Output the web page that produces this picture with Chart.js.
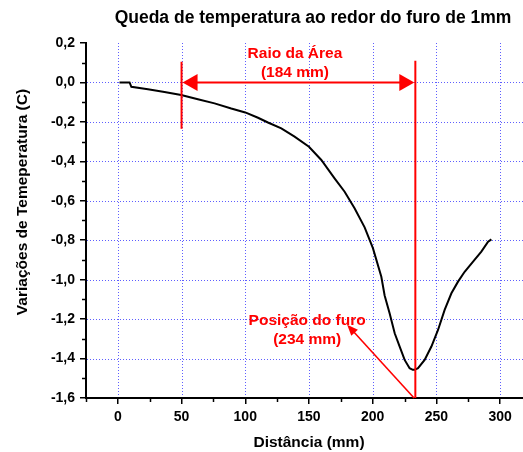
<!DOCTYPE html>
<html>
<head>
<meta charset="utf-8">
<script src="https://cdn.jsdelivr.net/npm/chart.js@4.4.1/dist/chart.umd.min.js"></script>
<style>
html,body{margin:0;padding:0;background:#fff;overflow:hidden}
#wrap{width:523px;height:452px;position:relative}
canvas{display:block}
</style>
</head>
<body>
<div id="wrap"><canvas id="c" width="523" height="452"></canvas></div>
<script>
// ---- data ----
const distanceMm = [1.3, 9.2, 10.6, 23.6, 36.6, 49.7, 62.8, 75.9, 89, 100, 110, 117.8, 128.3, 138.7, 150, 159.7, 170.1, 178, 185.8, 193.7, 200.2, 206.8, 209.4, 213.3, 217.3, 221.2, 225.1, 229.0, 231.5, 233.0, 235.6, 240.8, 246.1, 251.3, 256.5, 261.8, 267, 272.2, 278.8, 285.3, 290.6, 293.2];
const tempVariation = [0, 0, -0.022, -0.034, -0.048, -0.064, -0.085, -0.106, -0.132, -0.152, -0.179, -0.203, -0.233, -0.275, -0.326, -0.393, -0.486, -0.554, -0.638, -0.735, -0.84, -0.985, -1.08, -1.17, -1.272, -1.339, -1.407, -1.449, -1.457, -1.457, -1.449, -1.407, -1.339, -1.255, -1.153, -1.069, -1.01, -0.96, -0.909, -0.858, -0.808, -0.796];

const xMajorTicks = [0, 50, 100, 150, 200, 250, 300];
const xMinorTicks = [-25, 25, 75, 125, 175, 225, 275];
const yMajorTicks = [-1.6, -1.4, -1.2, -1.0, -0.8, -0.6, -0.4, -0.2, 0.0, 0.2];
const yMinorTicks = [-1.5, -1.3, -1.1, -0.9, -0.7, -0.5, -0.3, -0.1, 0.1];
const xGridValues = [0, 50, 100, 150, 200, 250, 300];
const yGridValues = [-1.4, -1.2, -1.0, -0.8, -0.6, -0.4, -0.2, 0.0];

const chartTitle = 'Queda de temperatura ao redor do furo de 1mm';
const xTitle = 'Distância (mm)';
const yTitle = 'Variações de Temeperatura (C)';
const radiusStart = 50;
const radiusEnd = 233.5;
const radiusLabel = ['Raio da Área', '(184 mm)'];
const holeLabel = ['Posição do furo', '(234 mm)'];

// ---- chart ----
const FONT = '"Liberation Sans", Arial, sans-serif';
const points = distanceMm.map((x, i) => ({x: x, y: tempVariation[i]}));
const allX = xMinorTicks.concat(xMajorTicks).sort((a, b) => a - b);
const allY = yMinorTicks.concat(yMajorTicks).sort((a, b) => a - b);
const isMajorY = v => yMajorTicks.some(m => Math.abs(m - v) < 1e-9);
const isMajorX = v => xMajorTicks.includes(v);

function arrowHead(ctx, tipX, tipY, fromX, fromY, len, half) {
  const ang = Math.atan2(tipY - fromY, tipX - fromX);
  ctx.save();
  ctx.translate(tipX, tipY);
  ctx.rotate(ang);
  ctx.beginPath();
  ctx.moveTo(0, 0);
  ctx.lineTo(-len, -half);
  ctx.lineTo(-len, half);
  ctx.closePath();
  ctx.fill();
  ctx.restore();
}

const decor = {
  id: 'decor',
  beforeDatasetsDraw(chart) {
    const {ctx, chartArea: a, scales: {x, y}} = chart;
    ctx.save();
    // dotted blue grid
    ctx.strokeStyle = 'rgba(40,40,255,0.75)';
    ctx.lineWidth = 1;
    ctx.setLineDash([1, 2]);
    xGridValues.forEach(v => {
      const px = Math.round(x.getPixelForValue(v)) + 0.5;
      ctx.beginPath(); ctx.moveTo(px, a.top); ctx.lineTo(px, a.bottom - 1); ctx.stroke();
    });
    yGridValues.forEach(v => {
      const py = Math.round(y.getPixelForValue(v)) + 0.5;
      ctx.beginPath(); ctx.moveTo(a.left + 1, py); ctx.lineTo(a.right, py); ctx.stroke();
    });
    ctx.setLineDash([]);
    // minor ticks
    ctx.strokeStyle = '#000';
    ctx.lineWidth = 1.5;
    xMinorTicks.forEach(v => {
      const px = Math.round(x.getPixelForValue(v)) + 0.5;
      ctx.beginPath(); ctx.moveTo(px, a.bottom); ctx.lineTo(px, a.bottom + 4); ctx.stroke();
    });
    yMinorTicks.forEach(v => {
      const py = Math.round(y.getPixelForValue(v)) + 0.5;
      ctx.beginPath(); ctx.moveTo(a.left, py); ctx.lineTo(a.left - 4, py); ctx.stroke();
    });
    ctx.restore();
  },
  afterDatasetsDraw(chart) {
    const {ctx, chartArea: a, scales: {x, y}} = chart;
    ctx.save();
    ctx.strokeStyle = '#ff0000';
    ctx.fillStyle = '#ff0000';
    ctx.lineWidth = 2;
    const xs = x.getPixelForValue(radiusStart);
    const xe = x.getPixelForValue(radiusEnd);
    const y0 = y.getPixelForValue(0);
    // vertical markers
    ctx.beginPath(); ctx.moveTo(xs, y.getPixelForValue(0.105)); ctx.lineTo(xs, y.getPixelForValue(-0.235)); ctx.stroke();
    ctx.beginPath(); ctx.moveTo(xe, y.getPixelForValue(0.11)); ctx.lineTo(xe, a.bottom); ctx.stroke();
    // double arrow
    ctx.beginPath(); ctx.moveTo(xs + 10, y0); ctx.lineTo(xe - 10, y0); ctx.stroke();
    arrowHead(ctx, xs + 1, y0, xe, y0, 15, 8.5);
    arrowHead(ctx, xe - 1, y0, xs, y0, 15, 8.5);
    // pointer arrow to hole label
    const tx = x.getPixelForValue(180), ty = y.getPixelForValue(-1.228);
    const sx = x.getPixelForValue(232.5), sy = a.bottom;
    ctx.lineWidth = 1.6;
    ctx.beginPath(); ctx.moveTo(sx, sy); ctx.lineTo(tx + (sx - tx) * 0.1, ty + (sy - ty) * 0.1); ctx.stroke();
    arrowHead(ctx, tx, ty, sx, sy, 11, 4.5);
    // red texts
    ctx.font = 'bold 15.5px ' + FONT;
    ctx.textAlign = 'center';
    ctx.textBaseline = 'alphabetic';
    const rx = x.getPixelForValue(139);
    ctx.fillText(radiusLabel[0], rx, y0 - 24.5);
    ctx.fillText(radiusLabel[1], rx, y0 - 5.5);
    const hx = x.getPixelForValue(148.6);
    ctx.fillText(holeLabel[0], hx, y.getPixelForValue(-1.2) + 5.5);
    ctx.fillText(holeLabel[1], hx, y.getPixelForValue(-1.2) + 24.5);
    // titles
    ctx.fillStyle = '#000';
    ctx.font = 'bold 17.5px ' + FONT;
    ctx.fillText(chartTitle, 313, 23);
    ctx.font = 'bold 15.5px ' + FONT;
    ctx.fillText(xTitle, 309, 446.5);
    ctx.save();
    ctx.translate(26.5, 202);
    ctx.rotate(-Math.PI / 2);
    ctx.fillText(yTitle, 0, 0);
    ctx.restore();
    ctx.restore();
  }
};

new Chart(document.getElementById('c'), {
  type: 'line',
  data: {
    datasets: [{
      data: points,
      borderColor: '#000',
      borderWidth: 2,
      pointRadius: 0,
      tension: 0,
      fill: false
    }]
  },
  options: {
    responsive: false,
    animation: false,
    devicePixelRatio: 1,
    layout: {padding: {top: 43, left: 0, right: 0, bottom: 0}},
    plugins: {legend: {display: false}, tooltip: {enabled: false}, title: {display: false}},
    scales: {
      x: {
        type: 'linear',
        min: -25,
        max: 318,
        afterBuildTicks: s => { s.ticks = allX.map(v => ({value: v})); },
        afterFit: s => { s.height = 54; },
        ticks: {
          autoSkip: false,
          maxRotation: 0,
          padding: 5,
          color: '#000',
          font: {family: FONT, size: 14, weight: 'bold'},
          callback: v => isMajorX(v) ? String(v) : ''
        },
        grid: {
          drawOnChartArea: false,
          drawTicks: true,
          tickLength: 6,
          lineWidth: 1.5,
          color: c => (c.tick && isMajorX(c.tick.value)) ? '#000' : 'rgba(0,0,0,0)'
        },
        border: {display: true, color: '#000', width: 2}
      },
      y: {
        type: 'linear',
        min: -1.6,
        max: 0.2,
        afterBuildTicks: s => { s.ticks = allY.map(v => ({value: v})); },
        afterFit: s => { s.width = 86; },
        ticks: {
          autoSkip: false,
          padding: 5,
          color: '#000',
          font: {family: FONT, size: 14, weight: 'bold'},
          callback: v => isMajorY(v) ? v.toFixed(1).replace('.', ',') : ''
        },
        grid: {
          drawOnChartArea: false,
          drawTicks: true,
          tickLength: 6,
          lineWidth: 1.5,
          color: c => (c.tick && isMajorY(c.tick.value)) ? '#000' : 'rgba(0,0,0,0)'
        },
        border: {display: true, color: '#000', width: 2}
      }
    }
  },
  plugins: [decor]
});
</script>
</body>
</html>
